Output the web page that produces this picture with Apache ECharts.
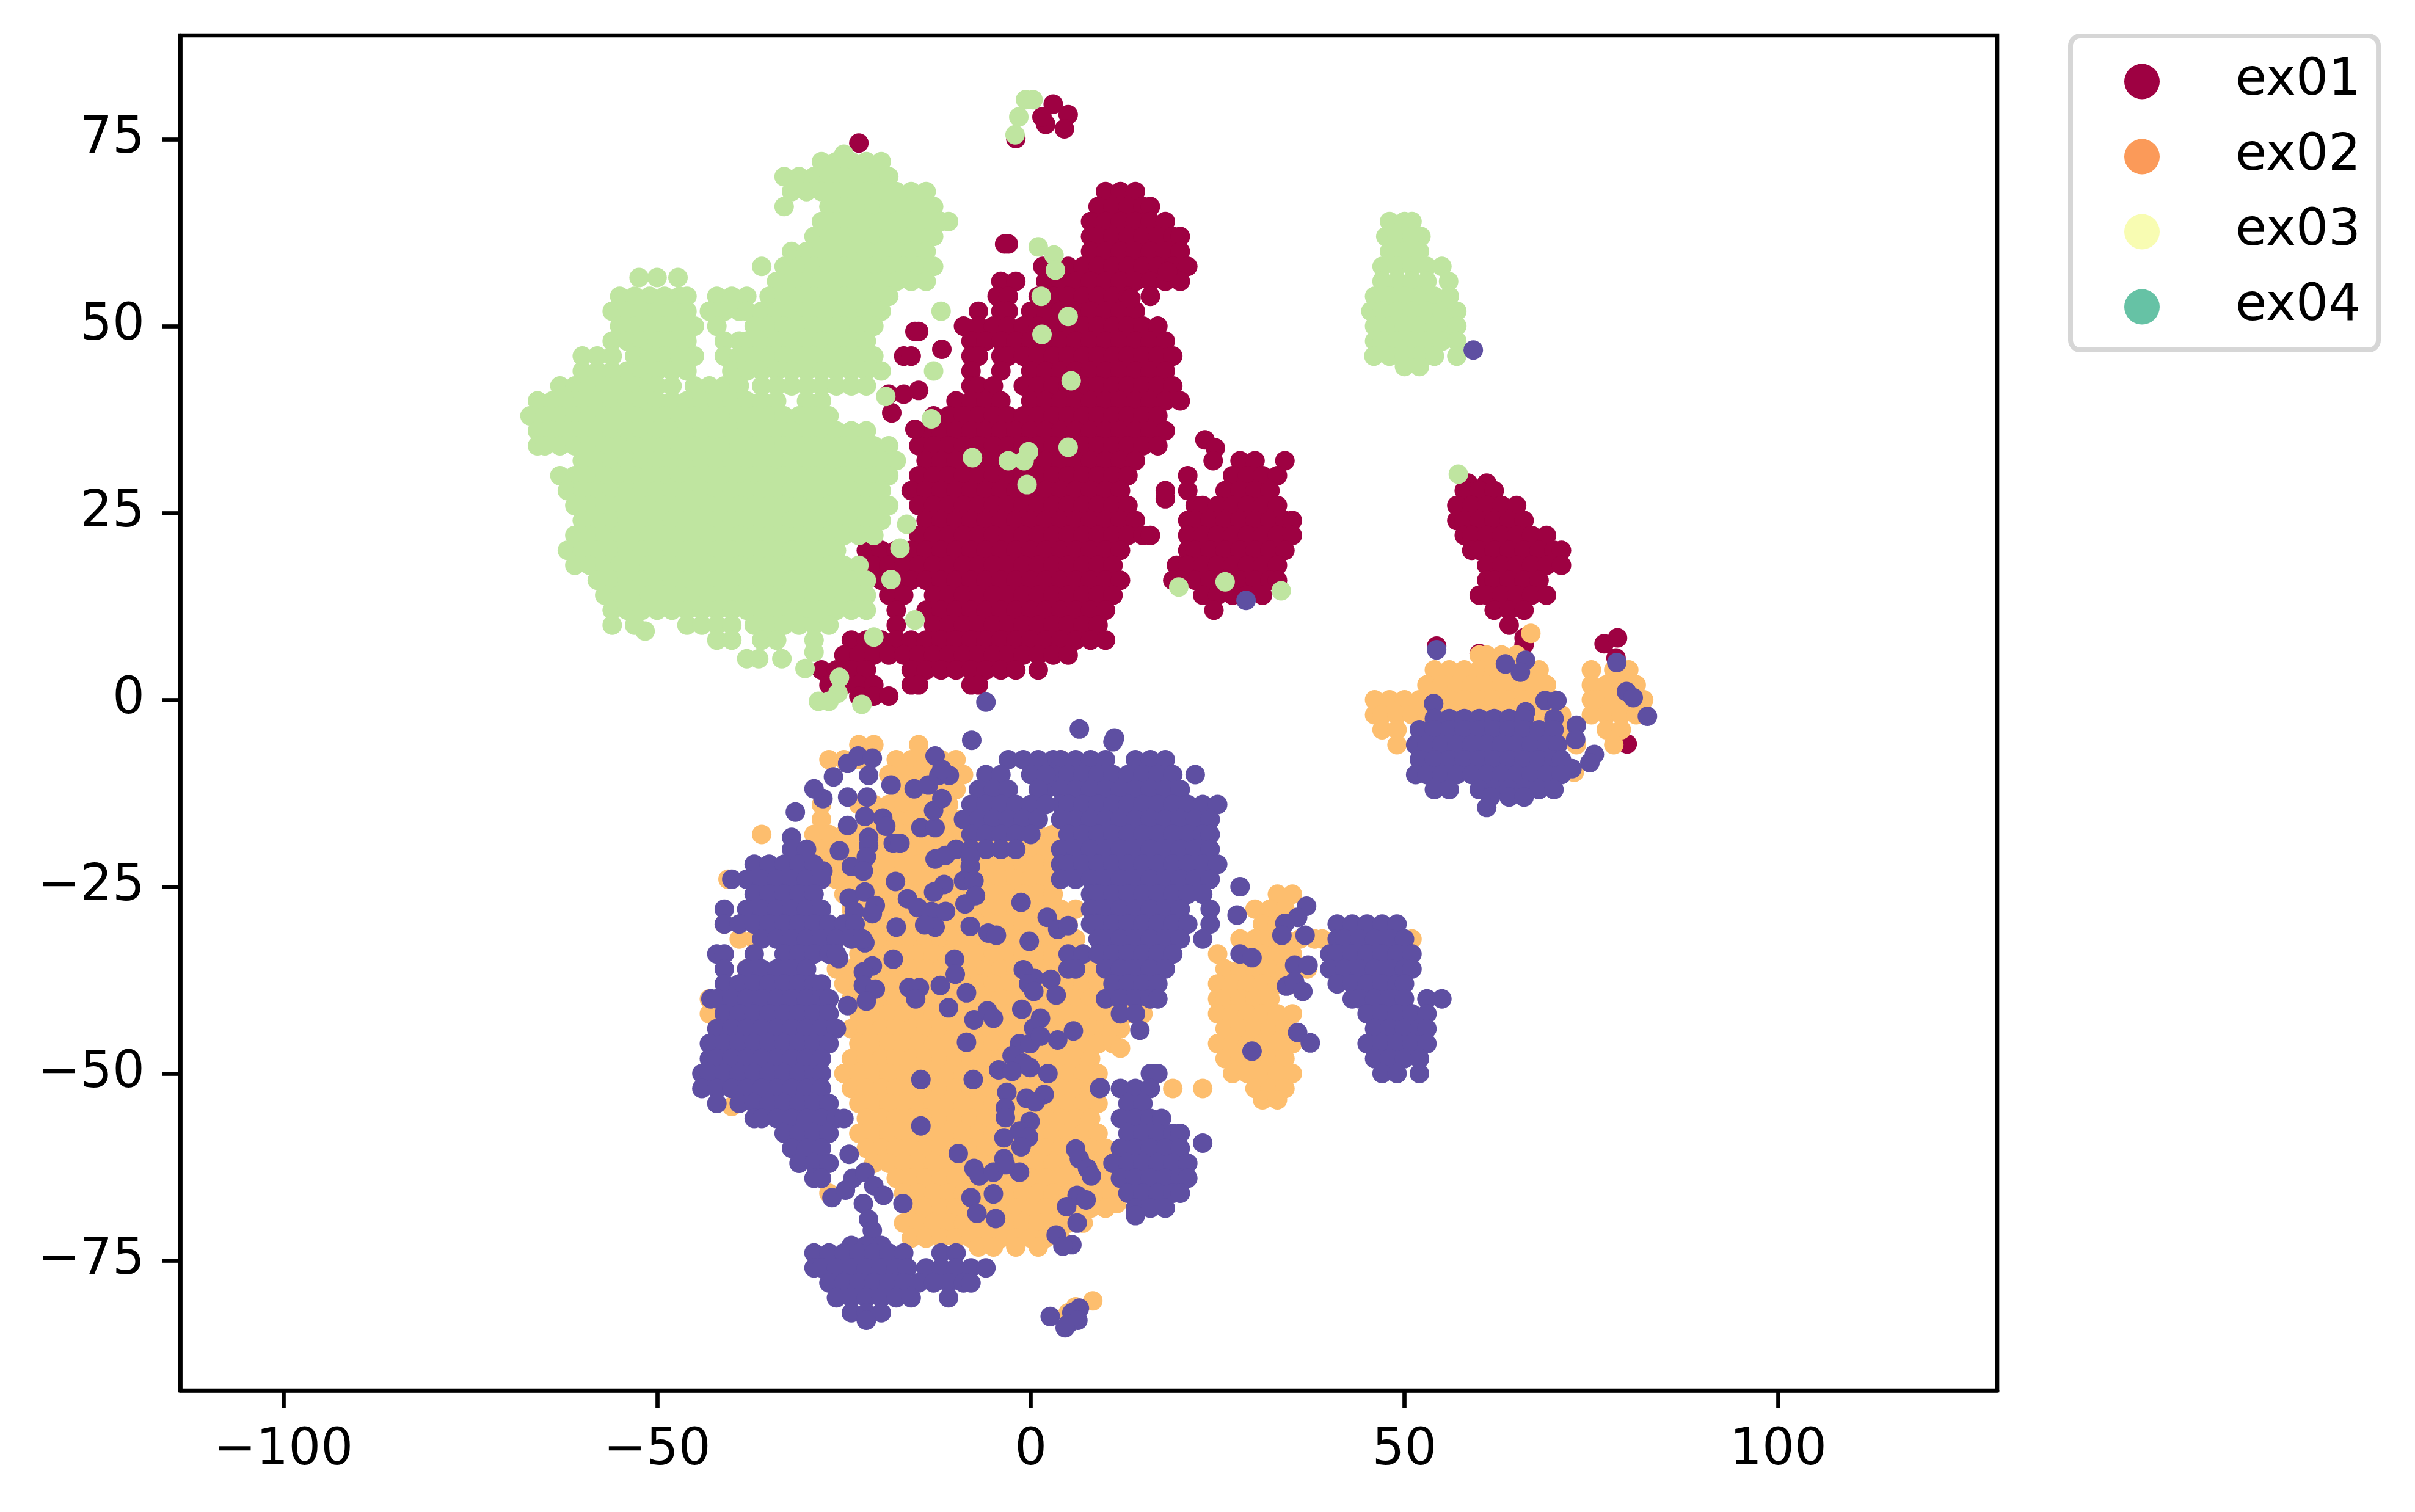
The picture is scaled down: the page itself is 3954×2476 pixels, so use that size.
<!DOCTYPE html>
<html><head><meta charset="utf-8">
<script src="https://cdn.jsdelivr.net/npm/echarts@6/dist/echarts.min.js"></script>
<style>html,body{margin:0;background:#fff}#c{width:3954px;height:2476px}</style></head>
<body><div id="c"></div>
<script>
// Each row: [y, x, x, x ...]
const ex01Rows = [
[74.5,-23],[79.7,3],[78.3,5],[77,2],[76.4,4.5],[78,1.5],[75.1,-2],
[68,10,12,14],[66,9,11,13,15,16],[64,8,10,12,14,16,18],[62,8,9,11,13,15,17,19,20],[60,8,10,12,14,16,18,20],
[58,1.6,3,5,7,9,11,13,15,17,19,21],[56,-4,-2,2,4,6,8,10,12,14,16,18,20],[54,-4.5,-3,1,3,5,7,9,11,13,16],
[52,-7,-4,-3,0,2,4,6,8,10,12,14],[50,-9,-7,-5,-3,-1,1,3,5,7,9,11,13,15,17],[48,-8,-6,-4,-2,0,2,4,6,8,10,12,14,16,18],
[46,-8,-7,-4,-3,-1,1,3,5,7,9,11,13,15,17,19],[44,-8,-4,0,2,4,6,8,10,12,14,16,18],[42,-8,-7,-5,-1,1,3,5,7,9,11,13,15,17,19],
[40,-10,-8,-6,-4,0,2,4,6,8,10,12,14,16,18,20],[38,-13,-11,-9,-7,-5,-3,-1,1,3,5,7,9,11,13,15,17],
[36,-14,-12,-10,-8,-6,-4,-2,0,2,4,6,8,10,12,14,16,18],[34,-15,-13,-11,-9,-7,-5,-3,-1,1,3,5,7,9,11,13,15,17],
[32,-14,-12,-10,-8,-6,-4,-2,0,2,4,6,8,10,12,14],[30,-15,-13,-11,-9,-7,-5,-3,-1,1,3,5,7,9,11,13],
[28,-16,-14,-12,-10,-8,-6,-4,-2,0,2,4,6,8,10,12,18],[26,-15,-13,-11,-9,-7,-5,-3,-1,1,3,5,7,9,11,13],
[24,-14,-12,-10,-8,-6,-4,-2,0,2,4,6,8,10,12,14],[22,-15,-13,-11,-9,-7,-5,-3,-1,1,3,5,7,9,11,13,15,16],
[20,-22,-20,-18,-16,-14,-12,-10,-8,-6,-4,-2,0,2,4,6,8,10,12],[18,-21,-19,-17,-15,-13,-11,-9,-7,-5,-3,-1,1,3,5,7,9,11],
[16,-20,-18,-16,-14,-12,-10,-8,-6,-4,-2,0,2,4,6,8,10,12],[14,-19,-17,-13,-11,-9,-7,-5,-3,-1,1,3,5,7,9,11],
[12,-18,-14,-12,-10,-8,-6,-4,-2,0,2,4,6,8,10],[10,-18,-13,-11,-9,-7,-5,-3,-1,1,3,5,7,9],
[8,-24,-22,-20,-18,-16,-14,-12,-10,-8,-6,-4,-2,0,2,4,6,8,10],[6,-25,-23,-21,-19,-17,-15,-13,-11,-9,-7,-5,-3,-1,1,3,5],
[4,-28,-26,-24,-22,-16,-14,-12,-10,-8,-6,-4,-2,1],[2,-27,-25,-23,-21,-16,-15,-8,-7],[0.5,-23,-21,-19],
[61,-3.5,-3],[57.3,18.3],[53.7,13.4],[49.3,-15.5,-15],[46.9,-11.9],[46,-17,-16],[40.9,-19,-17],[41.4,-15],[38.4,-18.6],[36.2,-15.5],[26.9,18],
[34.8,23.3],[33.7,24.7],[32,24.4,28,30,34],[30,21,27,29,31,33],[28,21,26,28,30,32],[26,22,23,25,27,29,31,33],
[24,21,22,24,26,28,30,32,34,35],[22,21,23,25,27,29,31,33,35],[20,21,22,24,26,28,30,32,34],[18,19.5,21,23,25,27,29,31,33],
[16,19,20,22,24,26,28,30,32,33],[14,23,25,27,29,31],[12,24.5],
[29,58.5,61],[28,58,60,62],[26,57,59,61,63,65],[24,57,58,60,62,64,66],[22,58,59,61,63,65,67,69],[20,59,60,62,64,66,68,70,71],
[18,61,63,65,67,69,71],[16,61,62,64,66,68],[14,60,61,63,65,67,69],[12,62,64,66],[10,64],
[8.3,66],[7.4,66],[7.5,76.7],[8.3,78.5],[5.6,78.3],[7.2,54.3],[6.2,60],[-5.9,79.8]
];
const ex02Rows = [
[8.9,66.9],[6,60,61,63,65],[4,54,56,58,60,62,64,66,68,75,78,80],[2,53,55,57,59,61,63,65,67,69,75,77,79,81],
[0,46,48,50,52,54,56,58,60,62,64,66,68,70,75,76,78,80,82],[-2,46,47,49,51,53,55,57,59,61,63,65,67,69,71,75,77,79,81],
[-4,47,49,72,77,79],[-6,49,73,78],[-9.7,72.7],
[-6,-23,-21,-15],[-8,-27,-25,-23,-18,-16,-14,-12,-10,4],[-10,-19,-17,-15,-13,-11,-9],[-12,-18,-16,-14,-12,-10],
[-14,-28,-23,-21,-19,-17,-15,-13,-11],[-16,-28,-22,-20,-18,-16,-14,-12,-10],
[-18,-36,-29,-27,-25,-23,-21,-19,-17,-15,-13,-11,-9,-7,-5,-3,-1,1,3],
[-20,-28,-26,-24,-22,-20,-18,-16,-14,-12,-10,-8,-6,-4,-2,0,2],[-22,-27,-25,-23,-21,-19,-17,-15,-13,-11,-9,-7,-5,-3,-1,1,3],
[-24,-40.5,-28,-26,-24,-22,-20,-18,-16,-14,-12,-10,-8,-6,-4,-2,0,2],[-26,-25,-23,-21,-19,-17,-15,-13,-11,-9,-7,-5,-3,-1,1,3],
[-28,-24,-22,-20,-18,-16,-14,-12,-10,-8,-6,-4,-2,0,2,4,6],[-30,-41,-25,-23,-21,-19,-17,-15,-13,-11,-9,-7,-5,-3,-1,1,3,5],
[-32,-39,-37,-24,-22,-20,-18,-16,-14,-12,-10,-8,-6,-4,-2,0,2,4,6],[-34,-23,-21,-19,-17,-15,-13,-11,-9,-7,-5,-3,-1,1,3,5,7],
[-36,-38,-26,-24,-22,-20,-18,-16,-14,-12,-10,-8,-6,-4,-2,0,2,4,6,8],[-38,-25,-23,-21,-19,-17,-15,-13,-11,-9,-7,-5,-3,-1,1,3,5,7,9,15],
[-40,-43,-24,-22,-20,-18,-16,-14,-12,-10,-8,-6,-4,-2,0,2,4,6,8,10,14,16],[-42,-43,-23,-21,-19,-17,-15,-13,-11,-9,-7,-5,-3,-1,1,3,5,7,9,11,13,15],
[-44,-24,-22,-20,-18,-16,-14,-12,-10,-8,-6,-4,-2,0,2,4,6,8,10,12],[-46,-23,-21,-19,-17,-15,-13,-11,-9,-7,-5,-3,-1,1,3,5,7,9,11],
[-48,-24,-22,-20,-18,-16,-14,-12,-10,-8,-6,-4,-2,0,2,4,6,8],[-50,-25,-23,-21,-19,-17,-15,-13,-11,-9,-7,-5,-3,-1,1,3,5,7,9],
[-52,-24,-22,-20,-18,-16,-14,-12,-10,-8,-6,-4,-2,0,2,4,6,8,19,23],[-54,-23,-21,-19,-17,-15,-13,-11,-9,-7,-5,-3,-1,1,3,5,7,9],
[-56,-22,-20,-18,-16,-14,-12,-10,-8,-6,-4,-2,0,2,4,6,8],[-58,-23,-21,-19,-17,-15,-13,-11,-9,-7,-5,-3,-1,1,3,5,7,9],
[-60,-22,-20,-18,-16,-14,-12,-10,-8,-6,-4,-2,0,2,4,6,8,10],[-62,-21,-19,-17,-15,-13,-11,-9,-7,-5,-3,-1,1,3,5,7,9],
[-64,-18,-16,-14,-12,-10,-8,-6,-4,-2,0,2,4,6,8,10],[-66,-27,-17,-15,-13,-11,-9,-7,-5,-3,-1,1,3,5,7,9,11],
[-68,-16,-14,-12,-10,-8,-6,-4,-2,0,2,4,6,8,10],[-70,-17,-15,-13,-11,-9,-7,-5,-3,-1,1,3,5,7],[-72,-16,-14,-12,-10,-8,-6,-4,-2,0,2,4],[-73.2,-7,-5,-2,1],
[-54.4,-40],[-65.3,10],[-67.4,11.5],[-46.6,12],[-43.7,11],[-80.4,8.3],[-81.2,6],[-82,5],
[-26,33,35],[-28,30,32,34],[-30,31,33],[-32,28,30,32,34,36,38,39,51],[-34,25,29,31,33,35],[-36,26,28,30,32,34,37],
[-38,25,27,29,31,33,35],[-40,25,26,28,30,32],[-42,25,27,29,31,33,35],[-44,26,28,30,32,34],[-46,25,27,29,31,33,35],
[-48,26,28,30,32,34],[-50,27,29,31,33,35],[-52,30,32,34],[-53.5,31,33]
];
const ex03Rows = [
[73,-25],[72,-28,-26,-24,-22,-20],[70,-33,-31,-29,-27,-25,-23,-21,-19],[68,-32,-30,-28,-26,-24,-22,-20,-18,-16,-14],
[66,-33,-27,-25,-23,-21,-19,-17,-15,-13],[64,-28,-26,-24,-22,-20,-18,-16,-14,-12,-11],[62,-29,-27,-25,-23,-21,-19,-17,-15,-13],
[60,-32,-30,-28,-26,-24,-22,-20,-18,-16,-14],[58,-36,-33,-31,-29,-27,-25,-23,-21,-19,-17,-15,-13],[56.5,-52.4,-50,-47.2],[56,-34,-32,-30,-28,-26,-24,-22,-20,-18,-16,-14],
[54,-55,-53,-51,-49,-47,-46,-42,-40,-38,-35,-33,-31,-29,-27,-25,-23,-21,-19],[52,-56,-54,-52,-50,-48,-46,-43,-41,-39,-38,-36,-34,-32,-30,-28,-26,-24,-22,-20],
[50,-55,-53,-51,-49,-47,-45,-42,-37,-35,-33,-31,-29,-27,-25,-23,-21],[48,-56,-54,-52,-50,-48,-46,-41,-39,-38,-36,-34,-32,-30,-28,-26,-24,-22],
[46,-60,-58,-56,-53,-51,-49,-47,-45,-41,-39,-37,-35,-33,-31,-29,-27,-25,-23,-21],[44,-60,-58,-56,-54,-52,-50,-48,-46,-40,-38,-36,-34,-32,-30,-28,-26,-24,-22,-20],
[42,-63,-61,-59,-57,-55,-53,-51,-50,-48,-45,-43,-41,-39,-36,-34,-32,-30,-28,-26,-24,-22],
[40,-66,-64,-62,-60,-58,-56,-54,-52,-50,-48,-46,-44,-42,-40,-38,-36,-34,-30,-28],
[38,-67,-65,-63,-61,-59,-57,-55,-53,-51,-49,-47,-45,-43,-41,-39,-37,-35,-33,-31,-29,-27],
[36,-66,-64,-62,-60,-58,-56,-54,-52,-50,-48,-46,-44,-42,-40,-38,-36,-34,-32,-30,-28,-26,-24,-22],
[34,-66,-65,-63,-61,-59,-57,-55,-53,-51,-49,-47,-45,-43,-41,-39,-37,-35,-33,-31,-29,-27,-25,-23,-21,-19],
[32,-60,-58,-56,-54,-52,-50,-48,-46,-44,-42,-40,-38,-36,-34,-32,-30,-28,-26,-24,-22,-20,-18],
[30,-63,-61,-59,-57,-55,-53,-51,-49,-47,-45,-43,-41,-39,-37,-35,-33,-31,-29,-27,-25,-23,-21,-19],
[28,-62,-60,-58,-56,-54,-52,-50,-48,-46,-44,-42,-40,-38,-36,-34,-32,-30,-28,-26,-24,-22,-20],
[26,-61,-59,-57,-55,-53,-51,-49,-47,-45,-43,-41,-39,-37,-35,-33,-31,-29,-27,-25,-23,-21,-19],
[24,-60,-58,-56,-54,-52,-50,-48,-46,-44,-42,-40,-38,-36,-34,-32,-30,-28,-26,-24,-22,-20],
[22,-61,-59,-57,-55,-53,-51,-49,-47,-45,-43,-41,-39,-37,-35,-33,-31,-29,-27,-25,-23,-21],
[20,-62,-60,-58,-56,-54,-52,-50,-48,-46,-44,-42,-40,-38,-36,-34,-32,-30,-28,-26],
[18,-61,-59,-57,-55,-53,-51,-49,-47,-45,-43,-41,-39,-37,-35,-33,-31,-29,-27,-25,-23],
[16,-58,-56,-54,-52,-50,-48,-46,-44,-42,-40,-38,-36,-34,-32,-30,-28,-26,-24,-22],
[14,-57,-55,-53,-51,-49,-47,-45,-43,-41,-39,-37,-35,-33,-31,-29,-27,-25,-23,-22],
[12,-56,-54,-52,-50,-48,-46,-44,-42,-40,-38,-36,-34,-32,-30,-28,-26,-24,-22],
[10,-56,-53,-46,-44,-42,-40,-37,-35,-33,-31,-29,-27],[9.2,-51.6],[8,-42,-40,-36,-34,-29],[5.5,-38,-36.4,-33.3],[4.2,-30.2],[6.4,-29],
[80.3,-0.7,0.3],[78,-1.6],[75.6,-2.1],[60.6,1],[59.5,3.1],[57.5,3.3],[54,1.4],[51.3,5],[48.9,1.5],[42.7,5.4],[52,-12],[44,-13],[37.6,-13.3],
[40.6,-19.4],[33.8,5],[33.2,-0.3],[32,-0.9,-3],[32.4,-7.8],[28.8,-0.5],[23.5,-16.6],[20.3,-17.5],[16.1,-18.7],[10.7,-15.5],[8.4,-21],
[15.1,19.8],[15.8,26],[14.6,33.5],[3,-25.6],[0.9,-25.8],[-0.2,-28.4,-27],[-0.6,-22.6],
[64,48,50,51],[62,47.5,49,51,52.2],[60,48,50,52],[58,47,49,51,53,55],[56,47,49,51,53,55.9],[54,46,48,50,52,54,56],[52,45.5,47,49,51,53,55,57],
[50,46,48,50,52,54,56,57],[48,46,47,49,51,53,55,57],[46,45.9,48,50,52,54,57],[44.6,50,52],[30.2,57.2]
];
const ex04Rows = [
[13.3,28.8],[-0.3,-6],[-3.9,6.5],[46.8,59.2],
[6.7,54.3],[4.8,63.5],[5.3,66.2],[3.7,65.5],[-0.5,53.9],[-0.1,68.8,70.4],[-1.6,66.2],[5,78.4],[1.1,79.7],[0.3,80.6],[-2.2,82.5],[-3.4,73],[-5.3,72.9],[-7.3,75.4],[-8.4,74.8],[-9.2,72.4],
[-2.5,54,56,58,60,62,64,66,70],[-4,52,54,56,58,60,62,64,66,68,70],[-6,51.5,53,55,57,59,61,63,65,67,69,70.5],[-8,52,54,56,58,60,62,64,66,68,70,71],[-10,51.5,53,55,57,59,61,63,65,67,69,71],[-12,54,56,60,62,64,66,68,70],[-13,61.5,64,66],[-14.4,61],
[-5.6,11],[-8,3,4,6,8,10,14,16,18],[-10,3,5,7,9,11,13,15,17,19,22],[-12,2,4,6,8,10,12,14,16,18,20],[-14,4,5,7,9,11,13,15,17,19,21,23,25],
[-16,4,6,8,10,12,14,16,18,20,22,24],[-18,5,7,9,11,13,15,17,19,21,23,24],[-20,4,6,8,10,12,14,16,18,20,22,24],[-22,4,5,7,9,11,13,15,17,19,21,23,25],
[-24,4,6,8,10,12,14,16,18,20,22,24],[-26,8,9,11,13,15,17,19,21,23],[-28,8,10,12,14,16,18,20,24],[-30,8,9,11,13,15,17,19,21,24],
[-32,9,10,12,14,16,18,20,23],[-34,5,7,9,11,13,15,17,19],[-36,5,6,10,12,14,16,18],[-38,11,13,15,17],[-40,10,12,14,16,17],[-42,12,14],[-44.2,14.6],
[-25,28],[-28.8,27.6],[-27.6,36.9],[-29.1,35.7],[-29.9,34],[-31.5,33.6,36.7],[-34,28],[-34.5,29.6],[-35.5,35.3,37.1],[-38.3,34.2],[-37.7,35.3],[-39,36.4],[-44.5,35.7],[-45.9,37.4],[-47,29.6],
[-30,41,43,45,47,49],[-32,41,42,44,46,48,50],[-34,40,41,43,45,47,49,51],[-36,40,42,44,46,48,50,51],[-38,41,43,45,47,49,50],[-40,43,44,46,48,50,53,55],[-42,45,47,49,51,53],[-44,46,48,50,52,53],[-46,45,47,49,51,53],[-48,46,48,50,52],[-50,47,49,52],
[-5.4,-7.9],[-5.1,11.2],[-8,-3,-1,1],[-10,-6,-4,0,2],[-12,-7,-5,-3,1],[-14,-8,-6,-4,-2,0,2],[-16,-9,-7,-5,-3,-1,1],[-18,-8,-6,-4,-2,0],[-20,-10,-8,-6,-4,-2],
[-21.3,-12.8],[-20.8,-11.4],[-21,-8.1],[-22.3,-8.1],[-24.2,-9,-7.6],[-26.2,-7.4],[-27.3,-8.8],[-24.7,-11.6],[-25.7,-13],[-26.6,-16.5],[-27.8,-15.1],[-28.3,-13.3,-11.4],[-30.4,-12.8],[-30.1,-14.2],
[-17.1,-14.7,-12.8],[-14.8,-13],[-13.2,-11.9],[-11.9,-15.6],[-11.4,-13.7],[-10.1,-12.3,-10.9],[-7.5,-12.8],[-9.3,-11.9],[-11.4,-18.7],[-13,-21.9,-24.5],[-13.2,-27.8],[-11.9,-29],[-10.3,-26.4],[-8.5,-24.5],[-7.5,-23.1],[-7.8,-21.2],[-10.1,-21.7],
[-15,-31.5],[-16.8,-24.5],[-15.6,-22.2],[-15.8,-19.8],[-16.9,-19.4],[-18.4,-21.7],[-19.5,-21.7],[-19.2,-18.4,-17.5],[-21,-22],[-20.2,-25.6],[-22.3,-24],[-22.9,-22.4,-27.8],[-24.3,-18.1],
[-26.5,-24.3],[-25.7,-22.2],[-27.5,-20.8],[-28.6,-21.2],[-28.3,-23.6],[-30.4,-18],[-31.2,-23.6],[-32.5,-22.2],[-34.7,-18.4,-10.2],[-34.6,-25.7],[-35.6,-21.2],[-36.4,-22.4],[-38.2,-22.4,-12.1],[-38.7,-20.8],[-40.3,-22],[-40.9,-24.5],
[-30.3,-8.1],[-31.2,-5.7],[-31.5,-4.6],[-27.1,-1.3],[-29.1,2.2],[-30.7,3.6],[-30.2,5],[-32.3,-0.2],[-36.7,-10.1],[-38.5,-16.3,-14.9],[-40,-15.4],[-39.2,-8.6],[-41.2,-11],[-42.8,-7.6],[-41.6,-5.8],[-42.6,-5],[-45.8,-8.6],[-50.8,-14.7,-7.7],[-57,-14.7],[-60.7,-9.7],
[-36.1,-1],[-37.2,0.4],[-38,-0.3],[-39,0.4],[-37.4,2.7],[-39.5,3.4],[-41.4,-1.2],[-42.6,1.3],[-43.9,0.4],[-45.5,3.6],[-44.3,5.7],[-46,-1.5,-0.1],[-47.6,-2.5],[-45,1.3],[-48.6,-1],[-49.5,-4.3],[-49.7,-2.5],[-49.2,-0.1],[-50,2.3],
[-51.9,9.3],[-52.5,-3.2],[-53.3,-0.6],[-52.8,1.8],[-53.8,0.6],[-54.6,-3.4],[-55.9,-3.4],[-56.4,-0.1],[-57.7,-1.5],[-58.5,-0.3],[-58.6,-3.6],[-59.8,-1.3],[-61.4,-3.6],[-62.7,-7.6],[-63.7,-6.9],[-63.2,-5,-1.5],[-62.2,-3.4],
[-66.6,-8],[-66.1,-5],[-68.7,-7.2],[-69.4,-4.7],[-60.1,6],[-61.4,6.5],[-62.7,7.6],[-63.7,8.1],[-66.3,6.2],[-66.9,7.4],[-67.8,4.8],[-70,6.2],[-71.6,3.4],[-72.9,5.5],[-73.1,4.3],[-60.8,-24.3],
[-66.6,-26.6],[-65.6,-24.8],[-64,-23.8],[-63.2,-22.2],[-65,-21],[-66.3,-19.7],[-67.4,-17.1,-22.4],[-69.5,-21.7],[-71,-21.2],
[-18.4,-32],[-20,-32,-30],[-22,-37,-35,-33,-31,-29],[-24,-40,-38,-36,-34,-32,-30,-28],[-26,-37,-35,-33,-31,-29],[-28,-41,-38,-36,-34,-32,-30,-28],
[-30,-41,-39,-37,-35,-33,-31,-29,-27,-25,-23.5],[-32,-36,-34,-32,-30,-28,-26,-24,-22.5],[-34,-42,-41,-37,-33,-31,-29,-27,-26],[-36,-41,-38,-36,-34,-32,-30],
[-38,-41,-39,-37,-35,-33,-31,-29,-28],[-40,-42.8,-42,-40,-38,-36,-34,-32,-30,-28,-27],[-42,-41,-39,-37,-35,-33,-31,-29,-27],[-44,-42,-40,-38,-36,-34,-32,-30,-28,-26],
[-46,-43,-41,-39,-37,-35,-33,-31,-29,-27],[-48,-43,-42,-40,-38,-36,-34,-32,-30,-28],[-50,-44,-43,-41,-39,-37,-35,-33,-31,-29,-28],[-52,-44,-42,-40,-38,-36,-34,-32,-30,-28],
[-54,-42,-39,-37,-35,-33,-31,-29,-27],[-56,-37,-36,-34,-32,-30,-28,-26,-25],[-58,-33,-31,-29,-27],[-60,-32,-30,-28],[-62,-31,-29,-27],[-64,-29,-28],
[-73,-24,-22,-20],[-74,-29,-27,-25,-23,-21,-19,-17,-12,-10],[-76,-29,-28,-26,-24,-22,-20,-18,-16.5,-14,-12,-10,-8,-6],[-78,-27,-25,-23,-21,-19,-17,-15,-13,-11,-9,-8],[-80,-26,-24,-22,-20,-18,-16,-11],[-82,-24,-22,-20],[-83,-22],
[-82.5,2.6],[-81.4,6.5],[-82,5.5],[-83.5,5],[-83,6.3],[-84,4.6],
[-50,16,17],[-52,9.2,12,14,16],[-54,13,15],[-56,12,14,16,17.5],[-58,13,15,17,19,20],[-59.3,23],[-60,12,14,16,18,20],[-62,11,13,15,17,19,21],[-64,12,14,16,18,20,21],[-66,13,15,17,19,20],[-68,14,16,18],[-69,14]
];
const xTicks = [-100,-50,0,50,100];
const yTicks = [-75,-50,-25,0,25,50,75];
const seriesNames = ['ex01','ex02','ex03','ex04'];
const pointColors = ['#9e0142','#fdbe6e','#bfe5a0','#5e4fa2'];
const legendColors = ['#9e0142','#fb9a59','#f8fcb2','#66c2a5'];
const toPoints = rows => rows.flatMap(([y,...xs]) => xs.map(x => [x,y]));
const allRows = [ex01Rows,ex02Rows,ex03Rows,ex04Rows];
const F = 'DejaVu Sans';
const fmt = v => String(v).replace('-','\u2212');
const axisCommon = {
  type:'value', splitLine:{show:false},
  axisLine:{show:true,onZero:false,lineStyle:{color:'#000',width:6.67}},
  axisTick:{show:true,length:29,inside:false,lineStyle:{color:'#000',width:6.67}},
  axisLabel:{show:true,fontFamily:F,fontSize:83.3,color:'#000',formatter:fmt}
};
const chart = echarts.init(document.getElementById('c'),null,{renderer:'canvas'});
chart.setOption({
  animation:false, backgroundColor:'#fff',
  grid:{show:true,left:295,right:684,top:58,bottom:199,borderColor:'#000',borderWidth:6.67,backgroundColor:'#fff'},
  xAxis:{...axisCommon,min:-113.8,max:129.3,
    axisTick:{...axisCommon.axisTick,customValues:xTicks},
    axisLabel:{...axisCommon.axisLabel,margin:58,customValues:xTicks}},
  yAxis:{...axisCommon,min:-92.4,max:88.9,
    axisTick:{...axisCommon.axisTick,customValues:yTicks},
    axisLabel:{...axisCommon.axisLabel,margin:58,padding:[26,0,0,0],customValues:yTicks}},
  legend:{
    orient:'vertical',left:3390,top:59,selectedMode:false,
    padding:[33,29,29,88],itemWidth:58,itemHeight:58,itemGap:40,
    borderColor:'#d6d6d6',borderWidth:8,borderRadius:16,backgroundColor:'#fff',
    textStyle:{fontFamily:F,fontSize:83.3,color:'#000',padding:[0,0,0,119]},
    data:seriesNames.map((n,i)=>({name:n,icon:'circle',itemStyle:{color:legendColors[i]}}))
  },
  series:seriesNames.map((n,i)=>({
    name:n,type:'scatter',symbol:'circle',symbolSize:32,silent:true,large:false,
    itemStyle:{color:pointColors[i],opacity:1},
    data:toPoints(allRows[i])
  }))
});
</script></body></html>
